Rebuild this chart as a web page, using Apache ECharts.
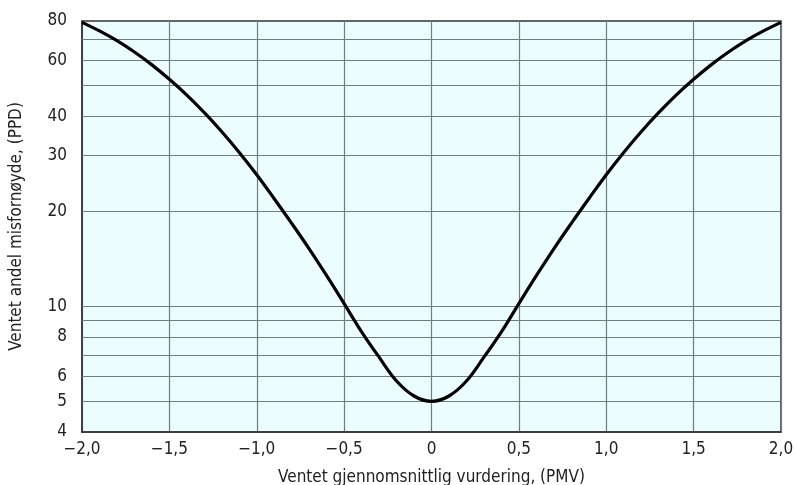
<!DOCTYPE html>
<html><head><meta charset="utf-8">
<script src="https://cdn.jsdelivr.net/npm/echarts@6/dist/echarts.min.js"></script>
<style>html,body{margin:0;padding:0;background:#fff}#c{width:795px;height:485px}</style>
</head><body><div id="c"></div>
<script>
const pmv = [-2.0,-1.9,-1.8,-1.7,-1.6,-1.5,-1.4,-1.3,-1.2,-1.1,-1.0,-0.9,-0.8,-0.7,-0.6,-0.5,-0.4,-0.3,-0.2,-0.1,0,0.1,0.2,0.3,0.4,0.5,0.6,0.7,0.8,0.9,1.0,1.1,1.2,1.3,1.4,1.5,1.6,1.7,1.8,1.9,2.0];
const ppd = [79.2,74.4,69.3,63.8,58.1,52.3,46.6,41.0,35.7,30.7,26.1,21.9,18.3,15.2,12.5,10.2,8.3,6.9,5.8,5.2,5.0,5.2,5.8,6.9,8.3,10.2,12.5,15.2,18.3,21.9,26.1,30.7,35.7,41.0,46.6,52.3,58.1,63.8,69.3,74.4,79.2];
const yLabelValues = [4,5,6,8,10,20,30,40,60,80];
const yGridValues = [5,6,7,8,9,10,20,30,40,50,60,70];
const xLabels = {'-2':'\u22122,0','-1.5':'\u22121,5','-1':'\u22121,0','-0.5':'\u22120,5','0':'0','0.5':'0,5','1':'1,0','1.5':'1,5','2':'2,0'};
const xTitle = 'Ventet gjennomsnittlig vurdering, (PMV)';
const yTitle = 'Ventet andel misfornøyde, (PPD)';

const font = "'DejaVu Sans Condensed','DejaVu Sans',sans-serif";
const chart = echarts.init(document.getElementById('c'), null, {renderer:'canvas'});
chart.setOption({
  animation:false,
  grid:{left:82,right:14,top:21,bottom:53,outerBoundsMode:'none',containLabel:false,show:true,backgroundColor:'#ebfdfe',borderColor:'#333',borderWidth:1.5},
  xAxis:{type:'value',min:-2,max:2,interval:0.5,
    name:xTitle,nameLocation:'middle',nameGap:37,
    nameTextStyle:{fontFamily:font,fontSize:17,color:'#222'},
    axisLine:{show:true,lineStyle:{color:'#333',width:1.5}},
    axisTick:{show:false},
    axisLabel:{fontFamily:font,fontSize:17,color:'#222',margin:9,formatter:v=>xLabels[String(v)]??''},
    splitLine:{show:true,lineStyle:{color:'#6f7e80',width:1.2}}
  },
  yAxis:{type:'log',logBase:10,min:4,max:80,
    name:yTitle,nameLocation:'middle',nameGap:57,
    nameTextStyle:{fontFamily:font,fontSize:17,color:'#222'},
    axisLine:{show:true,onZero:false,lineStyle:{color:'#333',width:1.5}},
    axisTick:{show:false},
    axisLabel:{fontFamily:font,fontSize:17,color:'#222',margin:15,customValues:yLabelValues},
    splitLine:{show:false}
  },
  series:[{
    type:'line',
    data:pmv.map((x,i)=>[x,ppd[i]]),
    smooth:0.4,symbol:'none',
    lineStyle:{color:'#000',width:3.2},
    markLine:{silent:true,symbol:['none','none'],label:{show:false},
      lineStyle:{color:'#6f7e80',width:1.2,type:'solid'},
      data:yGridValues.map(v=>({yAxis:v}))},
    z:5
  }]
});
</script></body></html>
